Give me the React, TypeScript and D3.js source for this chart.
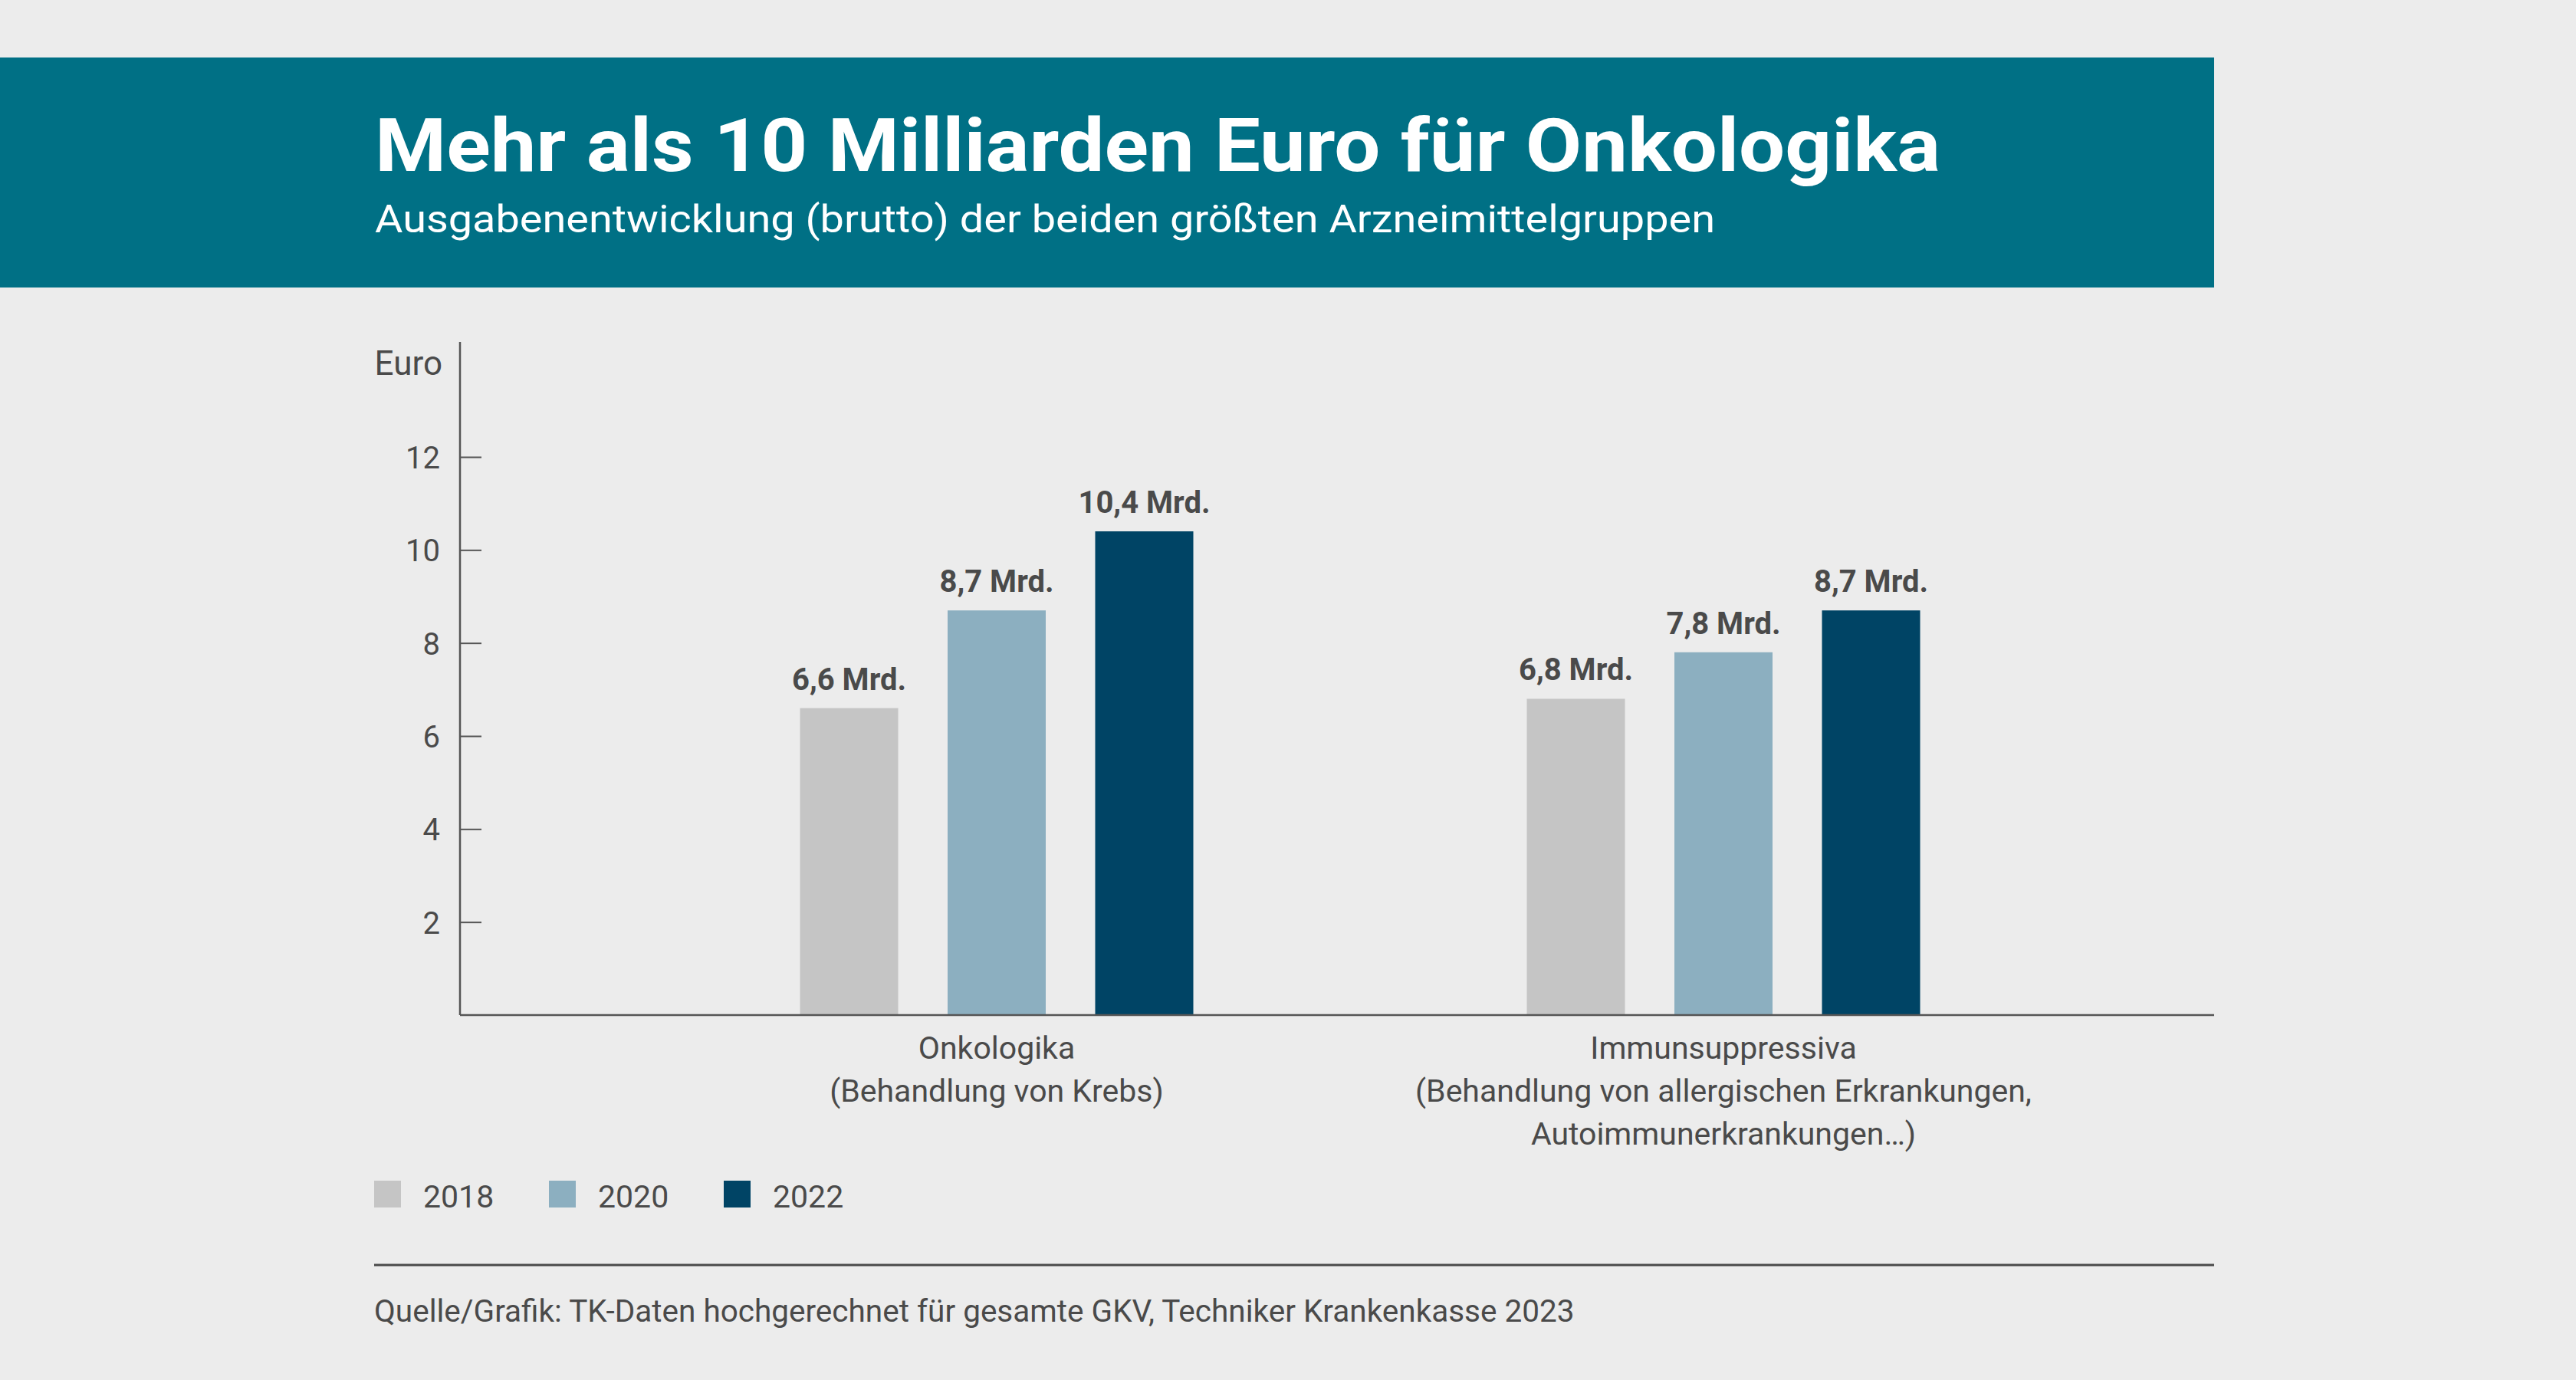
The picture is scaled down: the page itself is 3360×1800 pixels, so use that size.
import React, { useEffect, useRef } from "react";
import * as d3 from "d3";

const title = "Mehr als 10 Milliarden Euro für Onkologika";
const subtitle = "Ausgabenentwicklung (brutto) der beiden größten Arzneimittelgruppen";
const source = "Quelle/Grafik: TK-Daten hochgerechnet für gesamte GKV, Techniker Krankenkasse 2023";

const categories = ["Onkologika", "Immunsuppressiva"];
const categoryLines = [
  ["Onkologika", "(Behandlung von Krebs)"],
  ["Immunsuppressiva", "(Behandlung von allergischen Erkrankungen,", "Autoimmunerkrankungen…)"],
];
const years = ["2018", "2020", "2022"];
const values2018 = [6.6, 6.8];
const values2020 = [8.7, 7.8];
const values2022 = [10.4, 8.7];
const yTicks = [2, 4, 6, 8, 10, 12];
const yLabel = "Euro";

const colors = ["#c5c5c5", "#8cafc0", "#004465"];
const textColor = "#4a4a4a";

export default function App() {
  const ref = useRef(null);

  useEffect(() => {
    const W = 3360;
    const H = 1800;
    const font = "Roboto, sans-serif";

    const svg = d3.select(ref.current);
    svg.selectAll("*").remove();

    svg.append("rect").attr("width", W).attr("height", H).attr("fill", "#ececec");

    // header band
    svg.append("rect").attr("x", 0).attr("y", 75).attr("width", 2888).attr("height", 300).attr("fill", "#007085");
    svg.append("text")
      .attr("x", 489).attr("y", 223)
      .attr("fill", "#fff").attr("font-family", font).attr("font-weight", 700).attr("font-size", 96)
      .attr("textLength", 2042).attr("lengthAdjust", "spacingAndGlyphs")
      .text(title);
    svg.append("text")
      .attr("x", 489).attr("y", 303)
      .attr("fill", "#fff").attr("font-family", font).attr("font-size", 50)
      .attr("textLength", 1748).attr("lengthAdjust", "spacingAndGlyphs")
      .text(subtitle);

    // scales
    const left = 600, right = 2888;
    const y = d3.scaleLinear().domain([0, 12]).range([1324, 596]);
    const x0 = d3.scaleBand().domain(categories).range([826, 2722]);
    const x1 = d3.scaleBand().domain(years).range([-256.5, 256.5]).paddingInner(0.335).paddingOuter(0);

    const series = [values2018, values2020, values2022];
    const rows = categories.flatMap((c, i) =>
      years.map((yr, j) => ({ cat: c, year: yr, value: series[j][i], color: colors[j] }))
    );

    const fmt = d3.formatLocale({ decimal: ",", thousands: ".", grouping: [3], currency: ["", "€"] }).format(".1f");

    // y axis
    const yAxis = svg.append("g")
      .attr("transform", `translate(${left},0)`)
      .call(d3.axisLeft(y).tickValues(yTicks).tickSize(-28).tickPadding(26).tickFormat(d3.format("d")));
    yAxis.select(".domain").remove();
    yAxis.selectAll(".tick line").attr("stroke", "#555").attr("stroke-width", 2);
    yAxis.selectAll(".tick text")
      .attr("fill", textColor).attr("font-family", font).attr("font-size", 40).attr("dy", "0.36em");

    svg.append("line").attr("x1", left).attr("x2", left).attr("y1", 446).attr("y2", y(0))
      .attr("stroke", "#555").attr("stroke-width", 2.5);
    svg.append("text").attr("x", 577).attr("y", 489).attr("text-anchor", "end")
      .attr("fill", textColor).attr("font-family", font).attr("font-size", 44).text(yLabel);

    // bars
    svg.append("g").selectAll("rect").data(rows).join("rect")
      .attr("x", (d) => x0(d.cat) + x0.bandwidth() / 2 + x1(d.year))
      .attr("y", (d) => y(d.value))
      .attr("width", x1.bandwidth())
      .attr("height", (d) => y(0) - y(d.value))
      .attr("fill", (d) => d.color);

    svg.append("g").selectAll("text").data(rows).join("text")
      .attr("x", (d) => x0(d.cat) + x0.bandwidth() / 2 + x1(d.year) + x1.bandwidth() / 2)
      .attr("y", (d) => y(d.value) - 24)
      .attr("text-anchor", "middle")
      .attr("fill", textColor).attr("font-family", font).attr("font-weight", 700).attr("font-size", 40)
      .text((d) => `${fmt(d.value)} Mrd.`);

    // x axis line
    svg.append("line").attr("x1", left).attr("x2", right).attr("y1", y(0)).attr("y2", y(0))
      .attr("stroke", "#555").attr("stroke-width", 2.5);

    // category labels
    const cat = svg.append("g").selectAll("text").data(categories).join("text")
      .attr("text-anchor", "middle")
      .attr("fill", textColor).attr("font-family", font).attr("font-size", 41);
    cat.each(function (c, i) {
      d3.select(this).selectAll("tspan").data(categoryLines[i]).join("tspan")
        .attr("x", x0(c) + x0.bandwidth() / 2)
        .attr("y", (_, k) => 1381 + k * 56)
        .text((t) => t);
    });

    // legend
    const leg = svg.append("g").selectAll("g").data(years).join("g")
      .attr("transform", (_, i) => `translate(${488 + i * 228},1540)`);
    leg.append("rect").attr("width", 35).attr("height", 35).attr("fill", (_, i) => colors[i]);
    leg.append("text").attr("x", 64).attr("y", 35)
      .attr("fill", textColor).attr("font-family", font).attr("font-size", 41)
      .text((d) => d);

    // footer
    svg.append("line").attr("x1", 488).attr("x2", right).attr("y1", 1650).attr("y2", 1650)
      .attr("stroke", "#4a4a4a").attr("stroke-width", 3);
    svg.append("text").attr("x", 488).attr("y", 1724)
      .attr("fill", textColor).attr("font-family", font).attr("font-size", 40.5)
      .text(source);
  }, []);

  return (
    <svg
      ref={ref}
      width={3360}
      height={1800}
      style={{ position: "absolute", left: 0, top: 0, display: "block" }}
    />
  );
}
